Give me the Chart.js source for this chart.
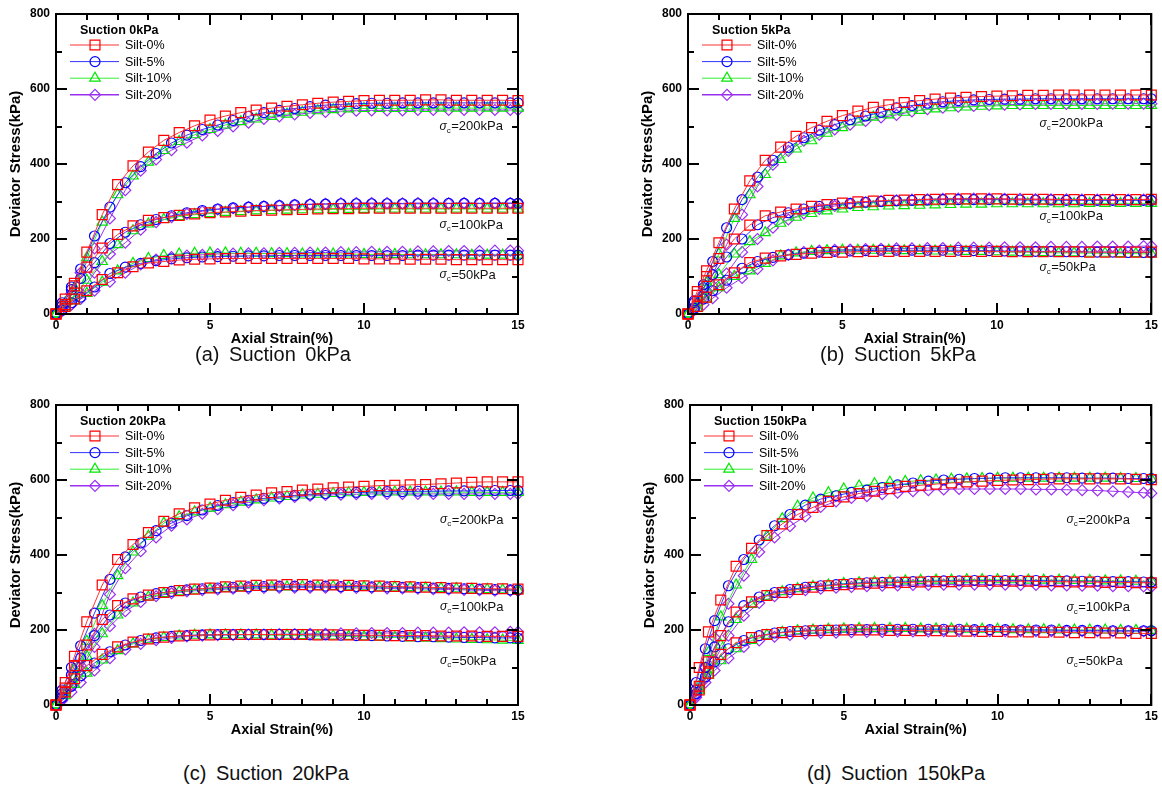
<!DOCTYPE html>
<html>
<head>
<meta charset="utf-8">
<script src="https://cdn.jsdelivr.net/npm/chart.js@4.4.0/dist/chart.umd.min.js"></script>
<style>
  html, body { margin: 0; padding: 0; background: #fff; width: 1162px; height: 785px; overflow: hidden; }
  .panel { position: absolute; }
  .panel canvas { display: block; }
  .cap { position: absolute; width: 300px; text-align: center; font-family: "Liberation Sans", Arial, sans-serif;
         font-size: 20px; line-height: 24px; color: #111; white-space: pre; word-spacing: 4px; }
</style>
</head>
<body>
<div class="panel" style="left:0px;top:0px"><canvas id="pa" width="540" height="345"></canvas></div>
<div class="panel" style="left:632px;top:0px"><canvas id="pb" width="530" height="345"></canvas></div>
<div class="panel" style="left:0px;top:391px"><canvas id="pc" width="540" height="345"></canvas></div>
<div class="panel" style="left:634px;top:391px"><canvas id="pd" width="528" height="345"></canvas></div>
<div class="cap" style="left:123px;top:342px">(a) Suction 0kPa</div>
<div class="cap" style="left:748px;top:342px">(b) Suction 5kPa</div>
<div class="cap" style="left:116px;top:761px">(c) Suction 20kPa</div>
<div class="cap" style="left:746px;top:761px">(d) Suction 150kPa</div>
<script>
// Axial strain (%) at which the readings were taken
const strainA = [0,0.3,0.6,1,1.5,2,2.5,3,3.5,4,4.5,5,5.5,6,6.5,7,7.5,8,8.5,9,9.5,10,10.5,11,11.5,12,12.5,13,13.5,14,14.5,15];
const strainB = [0,0.2,0.5,0.8,1.25,1.75,2.25,2.75,3.25,3.75,4.25,4.75,5.25,5.75,6.25,6.75,7.25,7.75,8.25,8.75,9.25,9.75,10.25,10.75,11.25,11.75,12.25,12.75,13.25,13.75,14.25,14.75,15];

const siltLabels = ['Silt-0%', 'Silt-5%', 'Silt-10%', 'Silt-20%'];
const confiningLabels = ['200kPa', '100kPa', '50kPa'];
const suctionTitles = ['Suction 0kPa', 'Suction 5kPa', 'Suction 20kPa', 'Suction 150kPa'];
const strainTicks = [0, 5, 10, 15];
const stressTicks = [0, 200, 400, 600, 800];

// Deviator stress (kPa) — suction 0kPa
const suc0_silt0_c200 = [0,40,82,165,265,345,395,432,463,484,502,517,528,537,544,549,554,558,562,565,567,569,570,570,570,571,571,570,570,570,570,569];
const suc0_silt5_c200 = [0,22,65,120,208,285,350,393,428,456,477,492,504,516,527,537,543,548,553,557,559,561,562,562,563,563,563,563,563,563,563,563,563];
const suc0_silt10_c200 = [0,30,70,150,245,318,368,405,436,460,478,492,504,513,520,527,533,538,542,545,547,548,548,548,548,548,549,549,549,549,549,549];
const suc0_silt20_c200 = [0,15,55,110,175,255,330,382,412,437,457,476,488,500,510,520,527,532,536,539,541,542,543,543,543,544,544,544,544,544,544,544,544];
const suc0_silt0_c100 = [0,25,75,125,176,212,235,250,257,263,267,270,272,274,276,277,278,279,280,281,281,282,282,282,282,282,282,282,282,282,282,282];
const suc0_silt5_c100 = [0,30,72,95,137,188,218,238,252,262,270,276,280,283,285,287,289,291,292,293,294,294,294,294,294,294,294,295,295,295,295,295,295];
const suc0_silt10_c100 = [0,20,50,90,140,185,222,240,252,260,265,268,271,273,275,276,277,278,278,279,279,279,280,280,280,280,280,280,280,280,280,280];
const suc0_silt20_c100 = [0,8,25,55,110,160,190,225,245,258,267,274,279,282,285,287,289,291,293,294,295,296,296,296,295,296,296,295,296,295,296,296,296];
const suc0_silt0_c50 = [0,20,40,62,92,110,126,136,140,144,146,147,148,148,148,148,148,148,148,148,148,147,147,147,146,146,146,145,145,145,145,145];
const suc0_silt5_c50 = [0,10,30,45,72,108,125,135,142,147,150,152,153,154,155,155,156,156,156,156,156,156,156,156,156,157,157,157,157,157,157,157,157];
const suc0_silt10_c50 = [0,18,35,55,85,115,135,148,156,160,162,163,163,162,162,161,161,160,160,160,160,159,159,159,158,158,158,158,157,157,157,157];
const suc0_silt20_c50 = [0,10,25,40,62,86,110,132,145,152,156,158,160,161,162,162,163,163,164,164,165,165,166,166,166,167,167,168,168,168,169,169,169];

// Deviator stress (kPa) — suction 5kPa
const suc5_silt0_c200 = [0,60,115,190,280,355,410,445,474,497,514,529,541,551,558,564,569,573,576,578,580,581,582,583,583,584,584,584,584,584,584,584];
const suc5_silt5_c200 = [0,30,78,140,230,305,365,410,444,470,490,505,518,528,538,550,556,562,566,569,571,572,573,573,574,574,574,574,574,574,574,574,574];
const suc5_silt10_c200 = [0,35,85,160,255,318,372,412,440,462,482,497,512,525,531,538,543,547,550,552,554,555,556,556,556,556,556,556,556,556,556,556];
const suc5_silt20_c200 = [0,20,55,105,185,265,340,398,435,462,478,492,505,515,524,531,540,546,550,553,555,557,558,559,560,560,560,560,560,561,561,561,561];
const suc5_silt0_c100 = [0,50,100,148,200,237,262,272,280,287,292,296,299,301,303,304,305,306,307,307,307,307,306,306,306,305,305,305,305,305,305,306];
const suc5_silt5_c100 = [0,35,70,105,152,200,238,257,270,280,287,292,295,298,300,302,303,304,305,305,305,305,305,304,304,304,303,303,303,303,303,303,303];
const suc5_silt10_c100 = [0,30,65,105,160,193,217,242,258,268,275,280,284,286,288,289,290,291,292,293,293,294,294,294,294,294,294,295,295,295,295,295];
const suc5_silt20_c100 = [0,15,45,75,108,165,200,230,252,268,280,288,294,298,301,303,305,306,307,308,308,308,307,307,306,306,306,305,305,305,305,305,305];
const suc5_silt0_c50 = [0,20,45,78,110,137,149,155,159,162,164,165,166,167,167,167,167,167,167,167,167,167,166,166,166,166,166,165,165,165,165,165];
const suc5_silt5_c50 = [0,15,40,62,90,122,140,151,158,162,165,167,168,169,170,170,170,170,170,170,169,169,168,168,167,167,166,166,165,165,164,164,164];
const suc5_silt10_c50 = [0,15,40,70,100,115,135,155,163,167,169,170,170,170,170,169,169,168,168,167,167,166,165,165,164,163,163,162,162,161,161,160];
const suc5_silt20_c50 = [0,10,25,42,70,96,120,143,158,165,169,171,172,173,174,175,175,176,176,177,177,177,178,178,178,179,179,179,180,180,180,181,181];

// Deviator stress (kPa) — suction 20kPa
const suc20_silt0_c200 = [0,60,130,222,320,388,428,460,490,510,526,536,546,554,560,566,569,573,576,579,581,583,585,586,587,588,590,592,594,595,595,595];
const suc20_silt5_c200 = [0,40,100,158,245,335,395,432,465,485,505,520,532,540,546,551,555,559,562,564,566,567,568,569,569,570,570,571,571,571,572,572,572];
const suc20_silt10_c200 = [0,40,95,170,265,345,408,450,485,502,515,525,534,541,547,552,556,560,562,564,566,567,568,568,568,568,568,568,567,567,567,567];
const suc20_silt20_c200 = [0,18,55,105,190,295,365,410,447,478,495,510,522,533,540,546,551,555,558,560,561,562,563,563,563,563,563,563,563,563,563,563,563];
const suc20_silt0_c100 = [0,45,105,160,228,265,283,293,300,305,309,312,315,317,319,320,321,321,320,320,319,318,317,316,315,314,313,312,311,310,310,309];
const suc20_silt5_c100 = [0,30,80,125,185,240,272,288,297,303,307,310,312,314,315,316,317,317,317,317,316,316,315,315,314,313,312,311,310,309,308,307,307];
const suc20_silt10_c100 = [0,30,75,130,190,240,272,288,297,302,306,309,311,313,314,315,315,316,316,316,315,315,314,314,313,312,311,310,309,308,307,306];
const suc20_silt20_c100 = [0,15,50,95,155,210,250,275,290,298,303,306,308,310,311,312,313,313,313,313,313,312,312,311,311,310,309,308,307,306,305,305,304];
const suc20_silt0_c50 = [0,35,70,105,135,155,168,176,181,184,186,187,188,188,188,188,188,188,187,187,187,186,186,185,185,185,184,184,184,183,183,183];
const suc20_silt5_c50 = [0,20,50,78,112,142,160,172,179,183,185,187,188,188,188,188,188,188,187,187,186,185,185,184,183,182,182,181,180,180,179,179,178];
const suc20_silt10_c50 = [0,25,55,85,120,145,163,174,180,184,186,187,187,187,187,186,186,185,184,184,183,182,181,180,179,178,177,176,175,174,173,172];
const suc20_silt20_c50 = [0,12,35,60,92,125,148,163,173,179,183,185,186,187,188,188,189,189,190,190,191,191,192,192,192,193,193,193,194,194,194,195,195];

// Deviator stress (kPa) — suction 150kPa
const suc150_silt0_c200 = [0,100,195,280,370,418,452,483,508,527,543,555,564,570,577,583,586,589,592,595,597,599,600,601,602,603,603,603,603,603,602,601];
const suc150_silt5_c200 = [0,60,150,225,318,388,440,478,508,533,549,558,567,573,580,587,592,597,600,602,604,605,606,606,606,606,606,605,605,605,604,604,604];
const suc150_silt10_c200 = [0,50,140,235,320,388,450,497,530,552,566,576,584,590,594,596,598,600,602,603,604,605,605,605,605,605,605,605,605,604,604,603];
const suc150_silt20_c200 = [0,30,100,180,270,345,408,447,477,503,528,543,552,557,562,566,570,573,575,576,576,576,576,576,575,575,574,573,572,570,568,566,565];
const suc150_silt0_c100 = [0,50,115,185,248,275,292,300,308,314,318,321,323,325,326,327,328,329,329,330,330,330,330,330,329,329,328,328,327,327,326,326];
const suc150_silt5_c100 = [0,40,100,155,222,265,288,300,308,314,318,321,324,326,327,328,329,330,331,331,332,332,332,332,332,331,331,330,330,329,329,328,328];
const suc150_silt10_c100 = [0,40,95,160,228,268,290,302,310,316,320,324,326,328,330,331,332,333,333,334,334,334,334,333,333,333,332,332,331,331,330,330];
const suc150_silt20_c100 = [0,25,70,120,185,238,272,290,300,306,310,313,315,317,318,319,320,320,321,321,321,321,321,320,320,319,319,318,318,317,317,316,315];
const suc150_silt0_c50 = [0,40,85,135,166,180,188,193,196,198,199,200,200,200,199,199,198,198,197,197,196,196,195,195,194,194,193,193,192,192,191,191];
const suc150_silt5_c50 = [0,30,75,115,150,172,185,192,196,198,199,200,201,201,202,202,202,202,202,202,201,201,201,200,200,200,199,199,199,198,198,198,198];
const suc150_silt10_c50 = [0,40,80,118,150,172,186,194,198,200,202,203,204,204,204,204,203,203,203,202,202,202,201,201,201,200,200,200,200,199,199,199];
const suc150_silt20_c50 = [0,20,60,92,125,155,172,182,187,190,192,193,194,195,195,196,196,196,197,197,197,197,197,197,197,197,197,197,197,197,197,197,197];

// Marker / line appearance for each silt content
const siltStyles = [
  { color: '#ff0000', line: '#ff3333', pointStyle: 'rect',     radius: 7   },
  { color: '#0000ff', line: '#3333ff', pointStyle: 'circle',   radius: 5   },
  { color: '#00e600', line: '#33ee33', pointStyle: 'triangle', radius: 6   },
  { color: '#9b30f0', line: '#9b30f0', pointStyle: 'rectRot',  radius: 5.5 }
];
const siltStrain = [strainA, strainB, strainA, strainB];

const FONT = '"Liberation Sans", Arial, sans-serif';

function buildDatasets(table) {
  const sets = [];
  table.forEach((bySigma, si) => {
    const st = siltStyles[si];
    bySigma.forEach(vals => {
      sets.push({
        label: siltLabels[si],
        data: siltStrain[si].map((x, i) => ({ x: x, y: vals[i] })),
        borderColor: st.line,
        borderWidth: 1,
        pointStyle: st.pointStyle,
        pointRadius: st.radius,
        pointBorderColor: st.color,
        pointBackgroundColor: 'rgba(0,0,0,0)',
        pointBorderWidth: 1.2,
        fill: false,
        tension: 0,
        clip: false
      });
    });
  });
  return sets;
}

// Box with inward ticks, axis titles, legend block and confining-pressure notes
const decorations = {
  id: 'decorations',
  afterDraw(chart, args, opts) {
    const { ctx, chartArea: a } = chart;
    const xs = chart.scales.x, ys = chart.scales.y;
    ctx.save();
    ctx.strokeStyle = '#000';
    ctx.lineWidth = 2;
    ctx.strokeRect(a.left, a.top, a.right - a.left, a.bottom - a.top);
    ctx.beginPath();
    for (let v = 0; v <= 15; v++) {
      const px = Math.round(xs.getPixelForValue(v));
      const len = v % 5 === 0 ? 11 : 6;
      ctx.moveTo(px, a.bottom); ctx.lineTo(px, a.bottom - len);
      ctx.moveTo(px, a.top); ctx.lineTo(px, a.top + len);
    }
    for (let v = 0; v <= 800; v += 100) {
      const py = Math.round(ys.getPixelForValue(v));
      const len = v % 200 === 0 ? 11 : 6;
      ctx.moveTo(a.left, py); ctx.lineTo(a.left + len, py);
      ctx.moveTo(a.right, py); ctx.lineTo(a.right - len, py);
    }
    ctx.stroke();

    // axis titles
    ctx.fillStyle = '#000';
    ctx.font = 'bold 14.5px ' + FONT;
    ctx.textAlign = 'center';
    ctx.textBaseline = 'middle';
    ctx.fillText('Axial Strain(%)', (a.left + a.right) / 2 - 5, a.bottom + 25);
    ctx.save();
    ctx.translate(16, (a.top + a.bottom) / 2);
    ctx.rotate(-Math.PI / 2);
    ctx.font = 'bold 15px ' + FONT;
    ctx.fillText('Deviator Stress(kPa)', 0, 0);
    ctx.restore();

    // legend
    const L = a.left, T = a.top;
    ctx.textAlign = 'left';
    ctx.font = 'bold 12.5px ' + FONT;
    ctx.fillText(opts.title, L + 24, T + 17);
    ctx.font = '12.5px ' + FONT;
    siltStyles.forEach((st, i) => {
      const y = T + 31 + i * 16.6;
      ctx.strokeStyle = st.line;
      ctx.lineWidth = i === 3 ? 1.6 : 1;
      ctx.beginPath(); ctx.moveTo(L + 14, y); ctx.lineTo(L + 63, y); ctx.stroke();
      ctx.strokeStyle = st.color;
      ctx.fillStyle = 'rgba(0,0,0,0)';
      ctx.lineWidth = 1.2;
      Chart.helpers.drawPoint(ctx, { pointStyle: st.pointStyle, radius: st.radius, rotation: 0, borderWidth: 1.2 }, L + 39, y);
      ctx.fillStyle = '#000';
      ctx.fillText(siltLabels[i], L + 69, y + 0.5);
    });

    // confining pressure notes
    opts.sigma.forEach((yv, i) => {
      let x = xs.getPixelForValue(opts.sigmaX);
      const y = ys.getPixelForValue(yv);
      ctx.fillStyle = '#111';
      ctx.font = 'italic 12px ' + FONT;
      ctx.fillText('σ', x, y);
      x += ctx.measureText('σ').width;
      ctx.font = '8px ' + FONT;
      ctx.fillText('c', x, y + 4);
      x += ctx.measureText('c').width + 0.5;
      ctx.font = '13px ' + FONT;
      ctx.fillText('=' + confiningLabels[i], x, y);
    });
    ctx.restore();
  }
};

function makeChart(id, table, title, padRight, sigmaX, sigma) {
  const tickFont = { family: FONT, size: 12, weight: 'bold' };
  return new Chart(document.getElementById(id), {
    type: 'line',
    data: { datasets: buildDatasets(table) },
    options: {
      responsive: false,
      animation: false,
      devicePixelRatio: 1,
      layout: { padding: { left: 0, right: padRight, top: 14, bottom: 0 } },
      plugins: {
        legend: { display: false },
        tooltip: { enabled: false },
        decorations: { title: title, sigmaX: sigmaX, sigma: sigma }
      },
      scales: {
        x: {
          type: 'linear', min: 0, max: 15,
          grid: { display: false, drawTicks: false, tickLength: 0 },
          border: { display: false },
          ticks: {
            color: '#000', font: tickFont, padding: 4, maxRotation: 0, autoSkip: false,
            stepSize: 5, callback: v => strainTicks.includes(v) ? String(v) : ''
          },
          afterFit: s => { s.height = 31; }
        },
        y: {
          min: 0, max: 800,
          grid: { display: false, drawTicks: false, tickLength: 0 },
          border: { display: false },
          ticks: {
            color: '#000', font: tickFont, padding: 6, autoSkip: false,
            stepSize: 200, callback: v => stressTicks.includes(v) ? String(v) : ''
          },
          afterFit: s => { s.width = 56; }
        }
      }
    },
    plugins: [decorations]
  });
}

makeChart('pa', [
  [suc0_silt0_c200, suc0_silt0_c100, suc0_silt0_c50],
  [suc0_silt5_c200, suc0_silt5_c100, suc0_silt5_c50],
  [suc0_silt10_c200, suc0_silt10_c100, suc0_silt10_c50],
  [suc0_silt20_c200, suc0_silt20_c100, suc0_silt20_c50]
], suctionTitles[0], 22, 12.45, [499, 237, 104]);

makeChart('pb', [
  [suc5_silt0_c200, suc5_silt0_c100, suc5_silt0_c50],
  [suc5_silt5_c200, suc5_silt5_c100, suc5_silt5_c50],
  [suc5_silt10_c200, suc5_silt10_c100, suc5_silt10_c50],
  [suc5_silt20_c200, suc5_silt20_c100, suc5_silt20_c50]
], suctionTitles[1], 10, 11.38, [507, 259, 123]);

makeChart('pc', [
  [suc20_silt0_c200, suc20_silt0_c100, suc20_silt0_c50],
  [suc20_silt5_c200, suc20_silt5_c100, suc20_silt5_c50],
  [suc20_silt10_c200, suc20_silt10_c100, suc20_silt10_c50],
  [suc20_silt20_c200, suc20_silt20_c100, suc20_silt20_c50]
], suctionTitles[2], 22, 12.47, [493, 261, 117]);

makeChart('pd', [
  [suc150_silt0_c200, suc150_silt0_c100, suc150_silt0_c50],
  [suc150_silt5_c200, suc150_silt5_c100, suc150_silt5_c50],
  [suc150_silt10_c200, suc150_silt10_c100, suc150_silt10_c50],
  [suc150_silt20_c200, suc150_silt20_c100, suc150_silt20_c50]
], suctionTitles[3], 10, 12.24, [493, 259, 117]);
</script>
</body>
</html>
